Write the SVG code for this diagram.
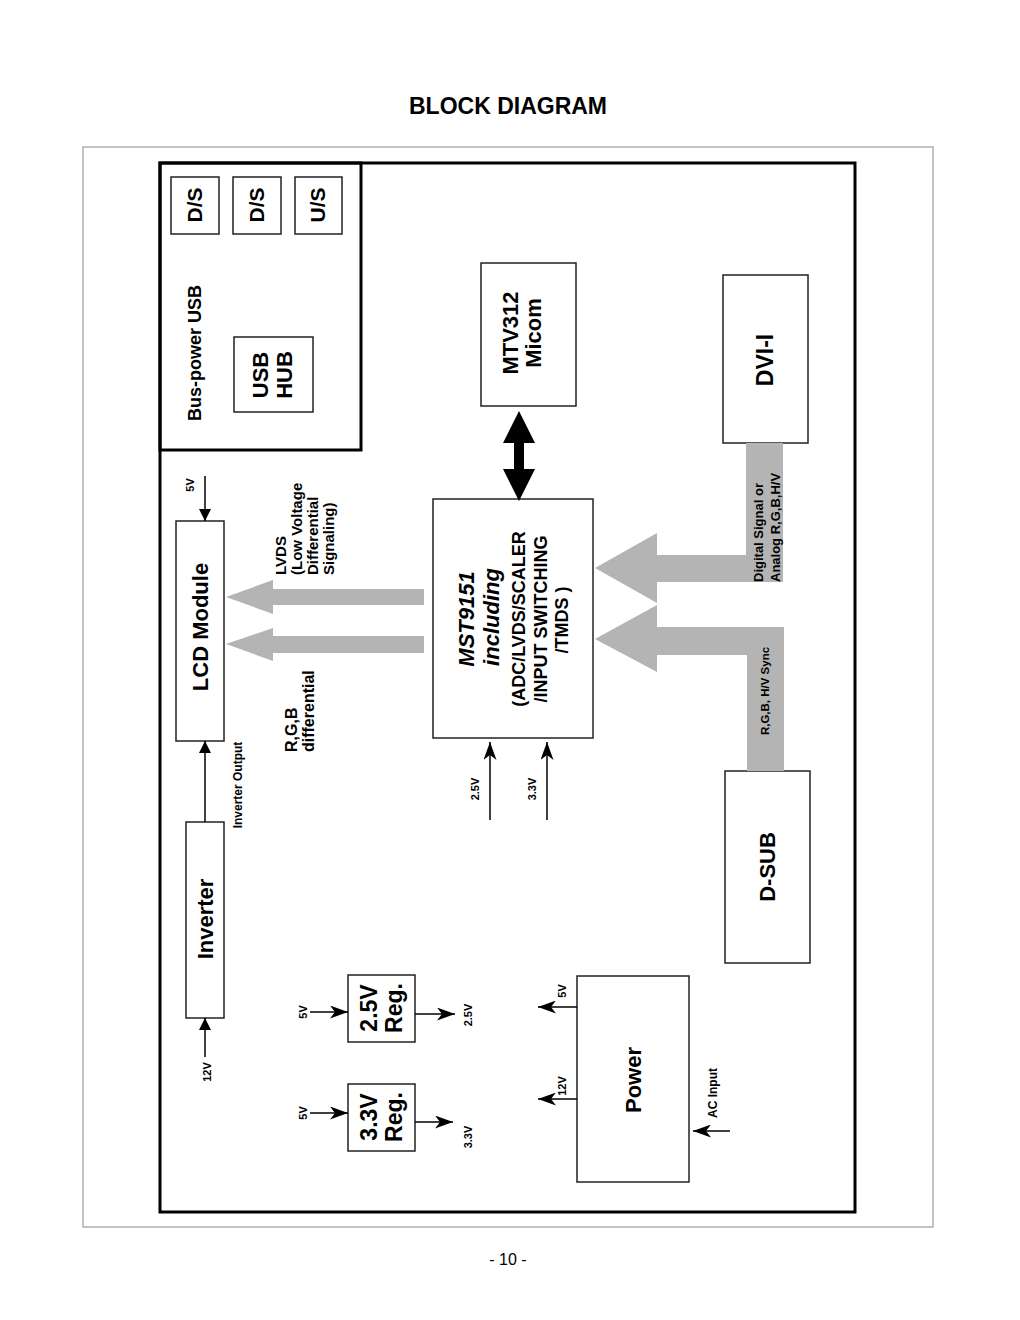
<svg xmlns="http://www.w3.org/2000/svg" width="1020" height="1320" viewBox="0 0 1020 1320">
<style>
text{font-family:"Liberation Sans",Arial,sans-serif;font-weight:bold;fill:#000}
.box{fill:#fff;stroke:#222;stroke-width:1.5}
.frame{fill:none;stroke:#000;stroke-width:3}
.wire{stroke:#000;stroke-width:1.5;fill:none}
.band{fill:#b4b4b4}
.big{font-size:22px}
.mid{font-size:18px}
.sm{font-size:11px}
.c{text-anchor:middle}
.s{text-anchor:start}
</style>
<defs>
<marker id="tri" markerUnits="userSpaceOnUse" markerWidth="12" markerHeight="12" refX="12" refY="6" orient="auto"><path d="M0,0 L12,6 L0,12 z" fill="#000"/></marker>
<marker id="stl" markerUnits="userSpaceOnUse" markerWidth="18" markerHeight="13" refX="18" refY="6.5" orient="auto"><path d="M0,0 L18,6.5 L0,13 L5,6.5 z" fill="#000"/></marker>
</defs>
<rect width="1020" height="1320" fill="#fff"/>
<text x="508" y="114" class="c" style="font-size:23px">BLOCK DIAGRAM</text>
<rect x="83" y="147" width="850" height="1080" fill="none" stroke="#888" stroke-width="1"/>
<rect x="160" y="163" width="695" height="1049" class="frame"/>
<text x="508" y="1265" class="c" style="font-size:16px;font-weight:normal">- 10 -</text>

<g id="usb">
<rect x="160" y="163" width="201" height="287" class="frame"/>
<text transform="translate(195,353) rotate(-90)" dy="0.35em" class="c" style="font-size:18px">Bus-power USB</text>
</g>
<g id="ds1"><rect x="171" y="177" width="48" height="57" class="box"/><text transform="translate(195,205) rotate(-90)" dy="0.35em" class="c" style="font-size:21px">D/S</text></g>
<g id="ds2"><rect x="233" y="177" width="48" height="57" class="box"/><text transform="translate(257,205) rotate(-90)" dy="0.35em" class="c" style="font-size:21px">D/S</text></g>
<g id="us"><rect x="295" y="177" width="47" height="57" class="box"/><text transform="translate(318,205) rotate(-90)" dy="0.35em" class="c" style="font-size:21px">U/S</text></g>
<g id="usbhub"><rect x="234" y="337" width="79" height="75" class="box"/>
<text transform="translate(260,375) rotate(-90)" dy="0.35em" class="c big">USB</text>
<text transform="translate(284,375) rotate(-90)" dy="0.35em" class="c big">HUB</text></g>

<g id="lcd"><rect x="176" y="521" width="48" height="220" class="box"/><text transform="translate(200,627) rotate(-90)" dy="0.35em" class="c big">LCD Module</text></g>
<g id="inverter"><rect x="186" y="822" width="38" height="196" class="box"/><text transform="translate(205,919) rotate(-90)" dy="0.35em" class="c big">Inverter</text></g>
<g id="reg25"><rect x="348" y="975" width="67" height="67" class="box"/>
<text transform="translate(369,1008) rotate(-90)" dy="0.35em" class="c" style="font-size:23px">2.5V</text>
<text transform="translate(394,1008) rotate(-90)" dy="0.35em" class="c" style="font-size:23px">Reg.</text></g>
<g id="reg33"><rect x="348" y="1084" width="67" height="67" class="box"/>
<text transform="translate(369,1117) rotate(-90)" dy="0.35em" class="c" style="font-size:23px">3.3V</text>
<text transform="translate(394,1117) rotate(-90)" dy="0.35em" class="c" style="font-size:23px">Reg.</text></g>
<g id="mst"><rect x="433" y="499" width="160" height="239" class="box"/>
<text transform="translate(466,619) rotate(-90)" dy="0.35em" class="c big" font-style="italic">MST9151</text>
<text transform="translate(491,617) rotate(-90)" dy="0.35em" class="c big" font-style="italic">including</text>
<text transform="translate(519,619) rotate(-90)" dy="0.35em" class="c mid">(ADC/LVDS/SCALER</text>
<text transform="translate(541,619) rotate(-90)" dy="0.35em" class="c mid">/INPUT SWITCHING</text>
<text transform="translate(562,620) rotate(-90)" dy="0.35em" class="c mid">/TMDS )</text></g>
<g id="micom"><rect x="481" y="263" width="95" height="143" class="box"/>
<text transform="translate(510,333) rotate(-90)" dy="0.35em" class="c big">MTV312</text>
<text transform="translate(533,333) rotate(-90)" dy="0.35em" class="c big">Micom</text></g>
<g id="dvi"><rect x="723" y="275" width="85" height="168" class="box"/><text transform="translate(765,360) rotate(-90)" dy="0.35em" class="c" style="font-size:23px">DVI-I</text></g>
<g id="dsub"><rect x="725" y="771" width="85" height="192" class="box"/><text transform="translate(767,867) rotate(-90)" dy="0.35em" class="c big">D-SUB</text></g>
<g id="power"><rect x="577" y="976" width="112" height="206" class="box"/><text transform="translate(633,1080) rotate(-90)" dy="0.35em" class="c big">Power</text></g>

<g id="connectors">
<polygon class="band" points="226,597 273,580 273,589 424,589 424,605 273,605 273,614"/>
<polygon class="band" points="226,644 273,628 273,636 424,636 424,653 273,653 273,661"/>
<polygon class="band" points="595,568 657,533 657,555 746,555 746,443 783,443 783,582 657,582 657,603"/>
<polygon class="band" points="595,639 657,605 657,627 784,627 784,771 747,771 747,655 657,655 657,672"/>
<polygon fill="#000" points="519,411 535,443 524,443 524,469 535,469 519,501 503,469 514,469 514,443 503,443"/>
<line class="wire" x1="205" y1="476" x2="205" y2="521" marker-end="url(#tri)"/>
<line class="wire" x1="205" y1="822" x2="205" y2="741" marker-end="url(#tri)"/>
<line class="wire" x1="205" y1="1057" x2="205" y2="1018" marker-end="url(#tri)"/>
<line class="wire" x1="310" y1="1012" x2="348" y2="1012" marker-end="url(#stl)"/>
<line class="wire" x1="310" y1="1113" x2="348" y2="1113" marker-end="url(#stl)"/>
<line class="wire" x1="415" y1="1014" x2="455" y2="1014" marker-end="url(#stl)"/>
<line class="wire" x1="415" y1="1122" x2="453" y2="1122" marker-end="url(#stl)"/>
<line class="wire" x1="490" y1="820" x2="490" y2="742" marker-end="url(#stl)"/>
<line class="wire" x1="547" y1="820" x2="547" y2="742" marker-end="url(#stl)"/>
<line class="wire" x1="577" y1="1007" x2="538" y2="1007" marker-end="url(#stl)"/>
<line class="wire" x1="577" y1="1099" x2="538" y2="1099" marker-end="url(#stl)"/>
<line class="wire" x1="730" y1="1131" x2="693" y2="1131" marker-end="url(#stl)"/>

<text transform="translate(190,485) rotate(-90)" dy="0.35em" class="c sm">5V</text>
<text transform="translate(207,1072) rotate(-90)" dy="0.35em" class="c sm">12V</text>
<text transform="translate(238,785) rotate(-90)" dy="0.35em" class="c" style="font-size:12px">Inverter Output</text>
<text transform="translate(281,575) rotate(-90)" dy="0.35em" class="s" style="font-size:15px">LVDS</text>
<text transform="translate(297,575) rotate(-90)" dy="0.35em" class="s" style="font-size:15px">(Low Voltage</text>
<text transform="translate(313,575) rotate(-90)" dy="0.35em" class="s" style="font-size:15px">Differential</text>
<text transform="translate(329,575) rotate(-90)" dy="0.35em" class="s" style="font-size:15px">Signaling)</text>
<text transform="translate(291,752) rotate(-90)" dy="0.35em" class="s" style="font-size:16px">R,G,B</text>
<text transform="translate(308,752) rotate(-90)" dy="0.35em" class="s" style="font-size:16px">differential</text>
<text transform="translate(303,1012) rotate(-90)" dy="0.35em" class="c sm">5V</text>
<text transform="translate(303,1113) rotate(-90)" dy="0.35em" class="c sm">5V</text>
<text transform="translate(468,1015) rotate(-90)" dy="0.35em" class="c sm">2.5V</text>
<text transform="translate(468,1137) rotate(-90)" dy="0.35em" class="c sm">3.3V</text>
<text transform="translate(475,789) rotate(-90)" dy="0.35em" class="c sm">2.5V</text>
<text transform="translate(532,789) rotate(-90)" dy="0.35em" class="c sm">3.3V</text>
<text transform="translate(562,991) rotate(-90)" dy="0.35em" class="c sm">5V</text>
<text transform="translate(562,1086) rotate(-90)" dy="0.35em" class="c sm">12V</text>
<text transform="translate(713,1093) rotate(-90)" dy="0.35em" class="c" style="font-size:12px">AC Input</text>
<text transform="translate(758,582) rotate(-90)" dy="0.35em" class="s" style="font-size:13px">Digital Signal or</text>
<text transform="translate(775,582) rotate(-90)" dy="0.35em" class="s" style="font-size:13px">Analog R,G,B,H/V</text>
<text transform="translate(765,691) rotate(-90)" dy="0.35em" class="c" style="font-size:11.5px">R,G,B, H/V Sync</text>
</g>
</svg>
